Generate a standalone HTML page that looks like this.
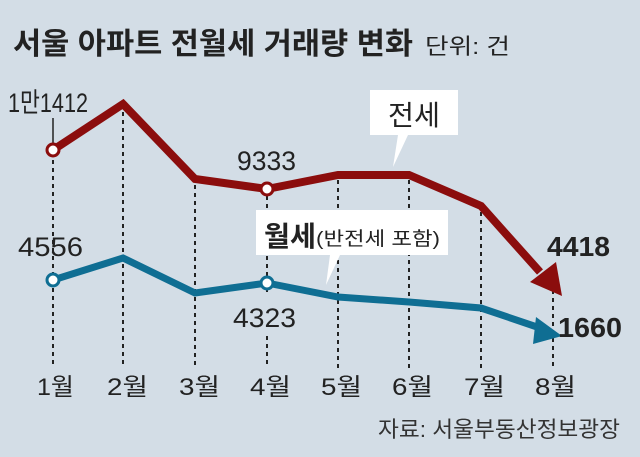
<!DOCTYPE html>
<html><head><meta charset="utf-8"><style>
body{margin:0;background:#d3dde6;}
svg{display:block;font-family:"Liberation Sans","Noto Sans CJK KR",sans-serif;}
</style></head><body>
<svg width="640" height="457" viewBox="0 0 640 457">
<rect width="640" height="457" fill="#d3dde6"/>
<text x="13" y="54" font-size="30" font-weight="bold" fill="#222" textLength="400" lengthAdjust="spacingAndGlyphs">서울 아파트 전월세 거래량 변화</text>
<text x="425" y="54" font-size="22" fill="#222" textLength="85" lengthAdjust="spacingAndGlyphs">단위: 건</text>
<g stroke="#222" stroke-width="2" stroke-dasharray="4,4">
<line x1="53" y1="160" x2="53" y2="368"/>
<line x1="123" y1="112" x2="123" y2="368"/>
<line x1="195" y1="185" x2="195" y2="368"/>
<line x1="267" y1="196" x2="267" y2="208"/>
<line x1="267" y1="256" x2="267" y2="292"/>
<line x1="267" y1="336" x2="267" y2="368"/>
<line x1="338" y1="180" x2="338" y2="368"/>
<line x1="409" y1="180" x2="409" y2="368"/>
<line x1="481" y1="212" x2="481" y2="368"/>
<line x1="553" y1="290" x2="553" y2="368"/>
</g>
<line x1="53" y1="118" x2="53" y2="145" stroke="#222" stroke-width="1.5"/>
<polyline points="53,150 123,104 195,179 267,189 338,175 409,175 481,206 540,272" fill="none" stroke="#8b0d0d" stroke-width="8" stroke-linejoin="miter"/>
<polygon points="530,282 556,262 562,296" fill="#8b0d0d"/>
<polyline points="53,280 123,258 195,293 267,283 338,297 409,302 481,308 540,328" fill="none" stroke="#0f6e93" stroke-width="7"/>
<polygon points="536,317 562,336 533,344" fill="#0f6e93"/>
<g fill="#fff" stroke-width="3">
<circle cx="53" cy="150" r="6" stroke="#8b0d0d"/>
<circle cx="267" cy="189" r="6" stroke="#8b0d0d"/>
<circle cx="53" cy="280" r="6" stroke="#0f6e93"/>
<circle cx="267" cy="283" r="6" stroke="#0f6e93"/>
</g>
<path d="M370,90 H458 V135 H408 L393,167 L398,135 H370 Z" fill="#fff"/>
<text x="388" y="125" font-size="28" fill="#222" textLength="52" lengthAdjust="spacingAndGlyphs">전세</text>
<path d="M256,210 H448 V255 H340 L326,285 L330,255 H256 Z" fill="#fff"/>
<text x="264" y="246" font-size="28" font-weight="bold" fill="#222" textLength="52" lengthAdjust="spacingAndGlyphs">월세</text>
<text x="316" y="245" font-size="19" fill="#222" textLength="124" lengthAdjust="spacingAndGlyphs">(반전세 포함)</text>
<g font-size="27" fill="#222">
<text x="8" y="112" textLength="80" lengthAdjust="spacingAndGlyphs">1만1412</text>
<text x="237" y="170" textLength="59" lengthAdjust="spacingAndGlyphs">9333</text>
<text x="18" y="256" textLength="65" lengthAdjust="spacingAndGlyphs">4556</text>
<text x="233" y="327" textLength="63" lengthAdjust="spacingAndGlyphs">4323</text>
<text x="547" y="256" font-weight="bold" font-size="28" textLength="63" lengthAdjust="spacingAndGlyphs">4418</text>
<text x="558" y="337" font-weight="bold" font-size="28" textLength="64" lengthAdjust="spacingAndGlyphs">1660</text>
</g>
<g font-size="24" fill="#222">
<text x="37" y="395" textLength="37" lengthAdjust="spacingAndGlyphs">1월</text>
<text x="107" y="395" textLength="41" lengthAdjust="spacingAndGlyphs">2월</text>
<text x="179" y="395" textLength="41" lengthAdjust="spacingAndGlyphs">3월</text>
<text x="250" y="395" textLength="41" lengthAdjust="spacingAndGlyphs">4월</text>
<text x="321" y="395" textLength="41" lengthAdjust="spacingAndGlyphs">5월</text>
<text x="392" y="395" textLength="41" lengthAdjust="spacingAndGlyphs">6월</text>
<text x="464" y="395" textLength="41" lengthAdjust="spacingAndGlyphs">7월</text>
<text x="535" y="395" textLength="41" lengthAdjust="spacingAndGlyphs">8월</text>
</g>
<text x="378" y="437" font-size="22" fill="#333" textLength="242" lengthAdjust="spacingAndGlyphs">자료: 서울부동산정보광장</text>
</svg>
</body></html>
